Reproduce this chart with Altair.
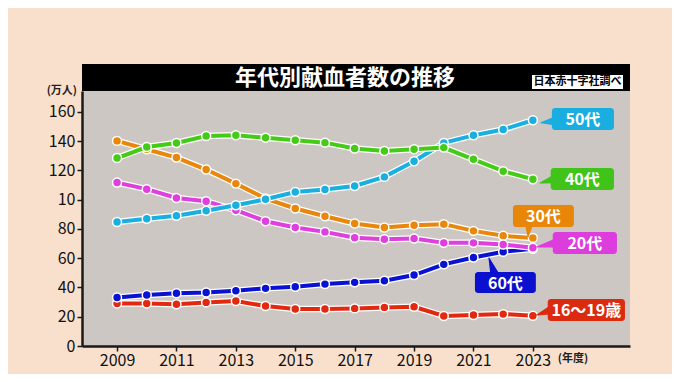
import altair as alt
import pandas as pd

# ---------------- data ----------------
years = list(range(2009, 2024))
teens = [29.1, 29.1, 28.5, 29.8, 30.7, 27.3, 25.3, 25.3, 25.7, 26.4, 26.8, 20.5, 21.2, 21.8, 20.7]
twenties = [111.7, 107.2, 101.2, 99.0, 92.8, 85.3, 81.0, 78.0, 74.0, 73.0, 73.5, 70.5, 70.5, 69.4, 67.1]
thirties = [140.2, 134.5, 128.8, 120.6, 111.0, 100.8, 94.0, 88.7, 83.7, 81.0, 82.6, 83.3, 78.7, 75.3, 73.9]
forties = [128.5, 136.0, 138.8, 143.5, 144.0, 142.4, 140.6, 139.0, 135.0, 133.3, 134.5, 135.6, 127.6, 119.5, 114.0]
fifties = [84.8, 87.0, 89.0, 92.4, 96.2, 100.3, 105.3, 107.0, 109.4, 115.6, 126.3, 138.8, 144.0, 148.0, 154.3]
sixties = [33.2, 34.8, 36.0, 36.6, 37.8, 39.4, 40.5, 42.3, 43.5, 44.6, 48.5, 55.8, 60.5, 64.4, 66.5]

series_names = ["16〜19歳", "60代", "30代", "20代", "50代", "40代"]
series_values = [teens, sixties, thirties, twenties, fifties, forties]
series_colors = ["#e2290f", "#0812d0", "#e8870b", "#de3fde", "#19afe0", "#45cb17"]

y_ticks = [0, 20, 40, 60, 80, 100, 120, 140, 160]
x_ticks = [2009, 2011, 2013, 2015, 2017, 2019, 2021, 2023]

title_text = "年代別献血者数の推移"
source_text = "日本赤十字社調べ"
y_unit = "(万人)"
x_unit = "(年度)"

# callout boxes (data coordinates: year range, value range)
callout_names = ["50代", "40代", "30代", "20代", "60代", "16〜19歳"]
callout_colors = ["#1aaee0", "#40c41a", "#e8860a", "#dc3ddc", "#0a0fd0", "#dc2a10"]
callout_x0 = [2023.64, 2023.60, 2022.33, 2023.67, 2021.05, 2023.50]
callout_x1 = [2025.73, 2025.73, 2024.38, 2025.83, 2023.10, 2026.10]
callout_y0 = [147.7, 106.6, 81.3, 62.9, 36.2, 17.1]
callout_y1 = [162.7, 121.7, 96.4, 77.9, 50.6, 32.1]
# pointer tip (near the point) and base (at the box)
tip_x = [2023.27, 2023.24, 2022.84, 2023.13, 2021.52, 2023.13]
tip_y = [152.6, 111.4, 74.5, 67.7, 60.2, 21.2]
base_x = [2023.75, 2023.75, 2022.87, 2023.78, 2021.72, 2023.62]
base_y = [153.8, 114.2, 84.0, 70.4, 48.5, 24.6]

# ---------------- tables ----------------
FONT = "Noto Sans CJK JP"
PW, PH = 548, 255

x_scale = alt.Scale(domain=[2007.82, 2026.27], nice=False, zero=False)
y_scale = alt.Scale(domain=[0, 174.3], nice=False, zero=True)

x_axis = alt.Axis(values=x_ticks, format="d", title=None, grid=False,
                  domainColor="#1a1a1a", domainWidth=2.5, tickColor="#1a1a1a",
                  tickWidth=1.5, tickSize=5, labelFontSize=16, labelColor="#111111",
                  labelFont=FONT, labelPadding=1)
y_axis = alt.Axis(values=y_ticks, title=None, grid=False,
                  labelExpr="datum.value == 100 ? '10' : datum.label",
                  domainColor="#1a1a1a", domainWidth=2.5, tickColor="#1a1a1a",
                  tickWidth=1.5, tickSize=5, labelFontSize=16, labelColor="#111111",
                  labelFont=FONT, labelPadding=2)

layers = []

# title bar & texts
one = alt.Data(values=[{}])
layers.append(alt.Chart(one).mark_rect(color="black").encode(
    x=alt.value(0), x2=alt.value(PW), y=alt.value(-27), y2=alt.value(0)))
layers.append(alt.Chart(one).mark_text(text=title_text, font=FONT, fontSize=22,
                                       fontWeight="bold", color="white").encode(
    x=alt.value(263), y=alt.value(-13)))
layers.append(alt.Chart(one).mark_rect(color="white").encode(
    x=alt.value(450), x2=alt.value(541), y=alt.value(-16), y2=alt.value(-2)))
layers.append(alt.Chart(one).mark_text(text=source_text, font=FONT, fontSize=11,
                                       fontWeight="bold", color="black").encode(
    x=alt.value(495.5), y=alt.value(-9)))
layers.append(alt.Chart(one).mark_text(text=y_unit, font=FONT, fontSize=11,
                                       fontWeight="bold", color="#222222",
                                       align="right").encode(
    x=alt.value(-5), y=alt.value(0)))
layers.append(alt.Chart(one).mark_text(text=x_unit, font=FONT, fontSize=11,
                                       fontWeight="bold", color="#222222").encode(
    x=alt.value(491), y=alt.value(268)))

# series
for name, vals, col in zip(series_names, series_values, series_colors):
    df = pd.DataFrame({"year": years, "value": vals, "series": name})
    base = alt.Chart(df).encode(
        x=alt.X("year:Q", scale=x_scale, axis=x_axis),
        y=alt.Y("value:Q", scale=y_scale, axis=y_axis),
    )
    layers.append(base.mark_line(color="white", strokeWidth=6.5))
    layers.append(base.mark_line(color=col, strokeWidth=4))
    layers.append(base.mark_point(filled=True, size=80, fill=col, stroke="white",
                                  strokeWidth=1.5, opacity=1))

# pointers (trail: width grows from tip to box)
ptr_rows = []
for i, n in enumerate(callout_names):
    ptr_rows.append({"label": n, "order": 0, "px": tip_x[i], "py": tip_y[i], "w": 1.0,
                     "color": callout_colors[i]})
    ptr_rows.append({"label": n, "order": 1, "px": base_x[i], "py": base_y[i], "w": 9.0,
                     "color": callout_colors[i]})
ptr_df = pd.DataFrame(ptr_rows)
layers.append(alt.Chart(ptr_df).mark_trail().encode(
    x=alt.X("px:Q", scale=x_scale, axis=x_axis),
    y=alt.Y("py:Q", scale=y_scale, axis=y_axis),
    size=alt.Size("w:Q", scale=None, legend=None),
    color=alt.Color("color:N", scale=None, legend=None),
    detail="label:N",
    order="order:Q",
))

box_df = pd.DataFrame({
    "label": callout_names, "color": callout_colors,
    "x0": callout_x0, "x1": callout_x1, "y0": callout_y0, "y1": callout_y1,
})
box_df["xc"] = (box_df["x0"] + box_df["x1"]) / 2
box_df["yc"] = (box_df["y0"] + box_df["y1"]) / 2

layers.append(alt.Chart(box_df).mark_rect(cornerRadius=3).encode(
    x=alt.X("x0:Q", scale=x_scale, axis=x_axis), x2="x1:Q",
    y=alt.Y("y0:Q", scale=y_scale, axis=y_axis), y2="y1:Q",
    color=alt.Color("color:N", scale=None, legend=None),
))
layers.append(alt.Chart(box_df).mark_text(font=FONT, fontSize=16, fontWeight="bold",
                                          color="white", dy=1).encode(
    x=alt.X("xc:Q", scale=x_scale, axis=x_axis),
    y=alt.Y("yc:Q", scale=y_scale, axis=y_axis),
    text="label:N",
))

chart = alt.layer(*layers).properties(
    width=PW, height=PH,
    autosize=alt.AutoSizeParams(type="none"),
    padding={"left": 74, "top": 83, "right": 42, "bottom": 28},
    background="#f9e0cd",
).configure_view(fill="#ccc7c2", stroke=None)

chart.save("out.html", embed_options={"renderer": "svg", "actions": False})
